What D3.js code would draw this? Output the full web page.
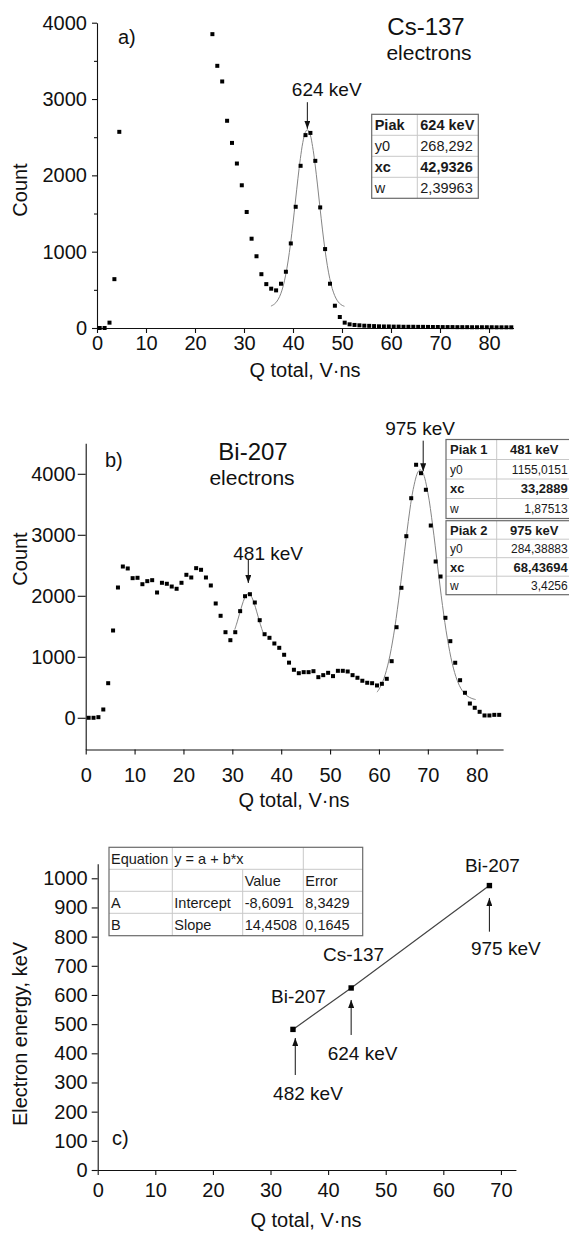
<!DOCTYPE html>
<html>
<head>
<meta charset="utf-8">
<script src="https://cdn.jsdelivr.net/npm/d3@7"></script>
<style>
  body { margin: 0; background: #fff; }
  svg { display: block; }
</style>
</head>
<body>
<div id="chart"></div>
<script>
const W = 569, H = 1233;
const font = '"Liberation Sans", Arial, Helvetica, sans-serif';

// ---- panel a: Cs-137 electrons ----
const binsA = d3.range(85).map(i => i + 0.55);
const countsA = [0, 0, 70, 640, 2570,
  null, null, null, null, null, null, null, null, null, null, null, null, null, null, null, null, null, null,
  3850, 3435, 3230, 2715, 2425, 2155, 1870, 1520, 1170, 940,
  705, 575, 515, 493, 580, 737, 1108, 1588, 2125, 2527,
  2556, 2190, 1580, 1034, 580, 292, 144, 70, 48,
  40, 35, 30, 28, 25, 22, 20, 20, 18, 18,
  16, 16, 16, 15, 15, 14, 13, 13, 12, 12,
  12, 11, 11, 11, 10, 10, 10, 10, 10, 9,
  9, 9, 9];
const fitAx = [35.5, 36, 36.5, 37, 37.5, 38, 38.5, 39, 39.5, 40, 40.5, 41, 41.5, 42, 42.5, 42.93,
  43.5, 44, 44.5, 45, 45.5, 46, 46.5, 47, 47.5, 48, 48.5, 49, 49.5, 50, 50.5];
const fitAy = [287, 304, 332, 378, 448, 550, 693, 878, 1107, 1374, 1664, 1955, 2219, 2430, 2561, 2598,
  2533, 2377, 2149, 1874, 1582, 1296, 1039, 821, 648, 518, 426, 363, 323, 298, 284];
const tableA = [["Piak", "624 keV"], ["y0", "268,292"], ["xc", "42,9326"], ["w", "2,39963"]];

// ---- panel b: Bi-207 electrons ----
const binsB = d3.range(85).map(i => i + 0.6);
const countsB = [0, 0, 10, 136, 567, 1431, 2136, 2480, 2448, 2289,
  2295, 2190, 2240, 2256, 2054, 2213, 2197, 2152, 2115, 2213,
  2344, 2300, 2453, 2426, 2300, 2169, 1874, 1672, 1403, 1272,
  1403, 1748, 1993, 2026, 1890, 1600, 1370, 1311, 1218, 1147,
  1033, 904, 787, 731, 748, 748, 764, 666, 699, 737,
  683, 770, 770, 759, 699, 656, 607, 574, 567, 530,
  557, 639, 928, 1485, 2131, 2977, 3600, 4148, 4010, 3738,
  3152, 2562, 2316, 1639, 1256, 902, 616, 410, 234, 164,
  98, 38, 38, 48, 48];
const fitB1x = [30.5, 31, 31.5, 32, 32.5, 33, 33.29, 33.5, 34, 34.5, 35, 35.5, 36, 36.3];
const fitB1y = [1446, 1572, 1713, 1849, 1960, 2024, 2035, 2030, 1974, 1870, 1736, 1594, 1465, 1397];
const fitB2x = [59.6, 60, 61, 62, 63, 64, 65, 66, 67, 68, 68.44, 69, 70, 71, 72, 73, 74, 75, 76, 77, 78, 79, 79.8];
const fitB2y = [420, 466, 641, 929, 1355, 1916, 2567, 3217, 3744, 4033, 4064, 4014, 3692, 3144, 2487, 1842,
  1297, 889, 615, 451, 361, 317, 299];
const tableB1 = [["Piak 1", "481 keV"], ["y0", "1155,0151"], ["xc", "33,2889"], ["w", "1,87513"]];
const tableB2 = [["Piak 2", "975 keV"], ["y0", "284,38883"], ["xc", "68,43694"], ["w", "3,4256"]];

// ---- panel c: calibration ----
const calibQ = [33.9, 44.0, 68.0];
const calibE = [482, 624, 975];
const calibSource = ["Bi-207", "Cs-137", "Bi-207"];
const calibLabel = ["482 keV", "624 keV", "975 keV"];
const tableC = [["Equation", "y = a + b*x", "", ""], ["", "", "Value", "Error"],
  ["A", "Intercept", "-8,6091", "8,3429"], ["B", "Slope", "14,4508", "0,1645"]];

// ticks
const xTicksAB = [0, 10, 20, 30, 40, 50, 60, 70, 80];
const yTicksAB = [0, 1000, 2000, 3000, 4000];
const yMinorA = [500, 1500, 2500, 3500];
const xTicksC = [0, 10, 20, 30, 40, 50, 60, 70];
const yTicksC = [0, 100, 200, 300, 400, 500, 600, 700, 800, 900, 1000];

const fmt = d3.format("d");

const svg = d3.select("#chart").append("svg")
  .attr("width", W).attr("height", H)
  .style("font-family", font);
svg.append("rect").attr("width", W).attr("height", H).attr("fill", "#fff");

const defs = svg.append("defs");
defs.append("marker")
  .attr("id", "arrow")
  .attr("viewBox", "0 0 8 6")
  .attr("refX", 8).attr("refY", 3)
  .attr("markerWidth", 8).attr("markerHeight", 6)
  .attr("markerUnits", "userSpaceOnUse")
  .attr("orient", "auto")
  .append("path").attr("d", "M0,0 L8,3 L0,6 Z").attr("fill", "#111");

function styleAxis(g) {
  g.selectAll("text").style("font-size", "20px").style("font-family", font).attr("fill", "#111");
  g.selectAll("line,path").attr("stroke", "#111").attr("stroke-width", 1.1);
}

function text(x, y, t, size, anchor, weight) {
  return svg.append("text").attr("x", x).attr("y", y)
    .attr("text-anchor", anchor || "start")
    .style("font-size", size + "px")
    .style("font-weight", weight || "normal")
    .attr("fill", "#111").text(t);
}

function ylabel(x, y, t) {
  svg.append("text").attr("transform", "translate(" + x + "," + y + ") rotate(-90)")
    .attr("text-anchor", "middle").attr("dy", "0.35em")
    .style("font-size", "20px").attr("fill", "#111").text(t);
}

function arrow(x, y1, y2) {
  svg.append("line").attr("x1", x).attr("x2", x).attr("y1", y1).attr("y2", y2)
    .attr("stroke", "#111").attr("stroke-width", 1).attr("marker-end", "url(#arrow)");
}

function squares(xs, ys, xv, yv, size) {
  const pts = xv.map((x, i) => ({ x: x, y: yv[i] })).filter(d => d.y != null);
  svg.append("g").selectAll("rect").data(pts).join("rect")
    .attr("x", d => xs(d.x) - size / 2)
    .attr("y", d => ys(d.y) - size / 2)
    .attr("width", size).attr("height", size)
    .attr("fill", "#000");
}

function fitLine(xs, ys, xv, yv) {
  const line = d3.line().x(d => xs(d[0])).y(d => ys(d[1])).curve(d3.curveCatmullRom);
  svg.append("path").datum(xv.map((x, i) => [x, yv[i]]))
    .attr("d", line).attr("fill", "none")
    .attr("stroke", "#858585").attr("stroke-width", 1);
}

function drawTable(x0, y0, colW, rowH, rows, o) {
  const g = svg.append("g");
  const xs = [x0]; colW.forEach(w => xs.push(xs[xs.length - 1] + w));
  const ys = [y0]; rowH.forEach(h => ys.push(ys[ys.length - 1] + h));
  const x1 = xs[xs.length - 1], y1 = ys[ys.length - 1];
  g.append("rect").attr("x", x0).attr("y", y0).attr("width", x1 - x0).attr("height", y1 - y0)
    .attr("fill", "#fff");
  ys.slice(1, -1).forEach(y => {
    g.append("line").attr("x1", x0).attr("x2", x1).attr("y1", y).attr("y2", y)
      .attr("stroke", "#c8c8c8");
  });
  xs.slice(1, -1).forEach((x, i) => {
    const r0 = o.vStart ? o.vStart[i] : 0;
    g.append("line").attr("x1", x).attr("x2", x).attr("y1", ys[r0]).attr("y2", y1)
      .attr("stroke", "#c8c8c8");
  });
  g.append("rect").attr("x", x0).attr("y", y0).attr("width", x1 - x0).attr("height", y1 - y0)
    .attr("fill", "none").attr("stroke", "#6a6a6a").attr("stroke-width", 1.2);
  rows.forEach((row, r) => row.forEach((t, c) => {
    if (!t) return;
    const bold = o.boldRows.includes(r);
    const align = (r === 0 && o.headAlign ? o.headAlign[c] : (o.align ? o.align[c] : "start"));
    const x = align === "end" ? xs[c + 1] - o.pad : align === "middle" ? (xs[c] + xs[c + 1]) / 2 : xs[c] + o.pad;
    g.append("text").attr("x", x).attr("y", ys[r] + rowH[r] / 2).attr("dy", "0.36em")
      .attr("text-anchor", align)
      .style("font-size", (bold ? o.boldSize : o.size) + "px")
      .style("font-weight", bold ? "bold" : "normal")
      .attr("fill", "#1a1a1a").text(t);
  }));
}

// ================= Panel a =================
const xA = d3.scaleLinear().domain([0, 85]).range([97, 513.5]);
const yA = d3.scaleLinear().domain([0, 4000]).range([328, 22.7]);

svg.append("g").attr("transform", "translate(0,328)")
  .call(d3.axisBottom(xA).tickValues(xTicksAB).tickFormat(fmt).tickSize(5).tickSizeOuter(0).tickPadding(3))
  .call(styleAxis);
svg.append("g").attr("transform", "translate(97,0)")
  .call(d3.axisLeft(yA).tickValues(yTicksAB).tickFormat(fmt).tickSize(5).tickSizeOuter(0).tickPadding(5))
  .call(styleAxis);
svg.append("g").attr("transform", "translate(97,0)")
  .call(d3.axisLeft(yA).tickValues(yMinorA).tickSize(3).tickSizeOuter(0).tickFormat(""))
  .call(styleAxis)
  .select(".domain").remove();

fitLine(xA, yA, fitAx, fitAy);
squares(xA, yA, binsA, countsA, 4);

text(118, 44, "a)", 20);
text(426, 35, "Cs-137", 24, "middle");
text(429, 60, "electrons", 21, "middle");
ylabel(20, 190, "Count");
text(305, 377, "Q total, V\u00b7ns", 20, "middle");

const peakA = { x: 42.93, y: 2610 };
arrow(xA(peakA.x), yA(peakA.y) - 26.6, yA(peakA.y));
text(xA(peakA.x) - 15.5, yA(peakA.y) - 33, "624 keV", 19);

drawTable(371.7, 114.3, [45.6, 61], [21, 21, 21, 21], tableA,
  { boldRows: [0, 2], size: 14.5, boldSize: 14.5, pad: 3 });

// ================= Panel b =================
const xB = d3.scaleLinear().domain([0, 85.4]).range([85.7, 503.1]);
const yB = d3.scaleLinear().domain([-520, 4500]).range([749.5, 443.3]);

svg.append("g").attr("transform", "translate(0," + yB(-520) + ")")
  .call(d3.axisBottom(xB).tickValues(xTicksAB).tickFormat(fmt).tickSize(5).tickSizeOuter(0).tickPadding(13))
  .call(styleAxis);
svg.append("g").attr("transform", "translate(85.7,0)")
  .call(d3.axisLeft(yB).tickValues(yTicksAB).tickFormat(fmt).tickSize(8).tickSizeOuter(0).tickPadding(2))
  .call(styleAxis);

fitLine(xB, yB, fitB1x, fitB1y);
fitLine(xB, yB, fitB2x, fitB2y);
squares(xB, yB, binsB, countsB, 4);

text(105, 467, "b)", 20);
text(253, 460, "Bi-207", 24, "middle");
text(252, 485, "electrons", 21, "middle");
ylabel(20, 559, "Count");
text(294, 807, "Q total, V\u00b7ns", 20, "middle");

const peaksB = [{ x: 33.27, y: 2210, len: 23.3, label: "481 keV", dx: -15, dy: 0 },
                { x: 69.05, y: 4040, len: 30.7, label: "975 keV", dx: -38, dy: -5.3 }];
peaksB.forEach(p => {
  arrow(xB(p.x), yB(p.y) - p.len, yB(p.y));
  text(xB(p.x) + p.dx, yB(p.y) - p.len + p.dy, p.label, 19);
});

drawTable(446, 439.5, [50.7, 75], [20, 19.5, 19.5, 20], tableB1,
  { boldRows: [0, 2], size: 12, boldSize: 13, pad: 4, align: ["start", "end"], headAlign: ["start", "middle"] });
drawTable(446, 520.7, [50.7, 75], [18.5, 18.5, 18.5, 18.5], tableB2,
  { boldRows: [0, 2], size: 12, boldSize: 13, pad: 4, align: ["start", "end"], headAlign: ["start", "middle"] });

// ================= Panel c =================
const xC = d3.scaleLinear().domain([0, 72.6]).range([97.7, 515.9]);
const yC = d3.scaleLinear().domain([0, 1050]).range([1170, 863.7]);

svg.append("g").attr("transform", "translate(0,1170)")
  .call(d3.axisBottom(xC).tickValues(xTicksC).tickFormat(fmt).tickSize(5).tickSizeOuter(0).tickPadding(8))
  .call(styleAxis);
svg.append("g").attr("transform", "translate(97.7,0)")
  .call(d3.axisLeft(yC).tickValues(yTicksC).tickFormat(fmt).tickSize(6).tickSizeOuter(0).tickPadding(4))
  .call(styleAxis);

const calib = calibQ.map((q, i) => ({ q: q, e: calibE[i], src: calibSource[i], lab: calibLabel[i] }));
svg.append("path").datum(calib)
  .attr("d", d3.line().x(d => xC(d.q)).y(d => yC(d.e)))
  .attr("fill", "none").attr("stroke", "#444").attr("stroke-width", 1.2);
svg.append("g").selectAll("rect").data(calib).join("rect")
  .attr("x", d => xC(d.q) - 2.7).attr("y", d => yC(d.e) - 2.7)
  .attr("width", 5.4).attr("height", 5.4).attr("fill", "#000");

const srcOff = [[5.5, -26.4], [2.4, -27], [3, -13.6]];
const arrOff = [[8.6, 45.6, 25], [12, 47, 25], [12.4, 46.1, 23.3]];
const labOff = [15, 11.4, 16.4];
calib.forEach((d, i) => {
  const px = xC(d.q), py = yC(d.e);
  text(px + srcOff[i][0], py + srcOff[i][1], d.src, 19, "middle");
  arrow(px + (i === 0 ? 2.3 : 0), py + arrOff[i][1], py + arrOff[i][0]);
  text(px + labOff[i], py + arrOff[i][1] + arrOff[i][2], d.lab, 19, "middle");
});

text(112, 1145, "c)", 20);
ylabel(20, 1034, "Electron energy, keV");
text(306, 1227, "Q total, V\u00b7ns", 20, "middle");

drawTable(109, 847.3, [63.3, 70.4, 60.6, 59.4], [22, 22, 22, 22.4], tableC,
  { boldRows: [], size: 14.5, boldSize: 14.5, pad: 2, vStart: [0, 1, 0] });
</script>
</body>
</html>
